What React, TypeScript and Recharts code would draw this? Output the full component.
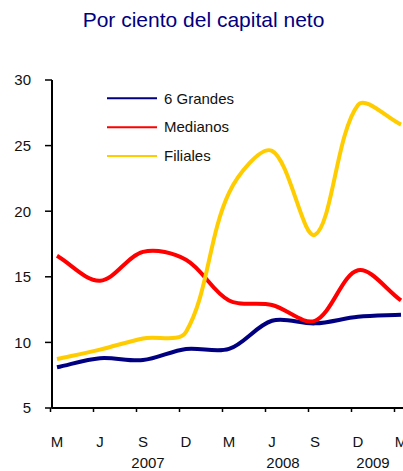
import React from "react";
import { LineChart, Line, XAxis, YAxis } from "recharts";

const FONT = '"Liberation Sans", Arial, sans-serif';

// quarterly observations, Mar 2007 .. Mar 2009
const periods = ["2007-03", "2007-06", "2007-09", "2007-12", "2008-03", "2008-06", "2008-09", "2008-12", "2009-03"];
const monthLabels = ["M", "J", "S", "D", "M", "J", "S", "D", "M"];
const grandes = [8.1, 8.8, 8.65, 9.5, 9.5, 11.65, 11.45, 11.95, 12.1];
const medianos = [16.6, 14.7, 16.9, 16.3, 13.2, 12.85, 11.65, 15.5, 13.2];
const filiales = [8.73, 9.45, 10.3, 10.8, 21.4, 24.6, 18.2, 28.1, 26.6];
const yTicks = [5, 10, 15, 20, 25, 30];

const SERIES = [
  { key: "grandes", name: "6 Grandes", color: "#000080" },
  { key: "medianos", name: "Medianos", color: "#FF0000" },
  { key: "filiales", name: "Filiales", color: "#FFCC00" },
];

const data = periods.map((p, i) => ({
  period: p,
  grandes: grandes[i],
  medianos: medianos[i],
  filiales: filiales[i],
}));

// spreadsheet-style smoothing (chord weighted catmull-rom)
function smoothCurve(context: any) {
  let pts: number[][] = [];
  const dist = (a: number[], b: number[]) => Math.hypot(a[0] - b[0], a[1] - b[1]);
  return {
    areaStart() {},
    areaEnd() {},
    lineStart() {
      pts = [];
    },
    point(x: number, y: number) {
      pts.push([+x, +y]);
    },
    lineEnd() {
      const n = pts.length;
      if (!n) return;
      context.moveTo(pts[0][0], pts[0][1]);
      const k = 1 / 3;
      for (let i = 0; i < n - 1; i++) {
        const p0 = pts[i - 1] || pts[i];
        const p1 = pts[i];
        const p2 = pts[i + 1];
        const p3 = pts[i + 2] || pts[i + 1];
        const d0 = dist(p0, p1);
        const d1 = dist(p1, p2);
        const d2 = dist(p2, p3);
        const f1 = d0 + d1 > 0 ? d1 / (d0 + d1) : 0;
        const f2 = d1 + d2 > 0 ? d1 / (d1 + d2) : 0;
        const c1x = p1[0] + (p2[0] - p0[0]) * f1 * k;
        const c1y = p1[1] + (p2[1] - p0[1]) * f1 * k;
        const c2x = p2[0] - (p3[0] - p1[0]) * f2 * k;
        const c2y = p2[1] - (p3[1] - p1[1]) * f2 * k;
        context.bezierCurveTo(c1x, c1y, c2x, c2y, p2[0], p2[1]);
      }
    },
  };
}

function MonthTick(props: any) {
  const { x, y, index } = props;
  return (
    <g>
      <line x1={x - 6.5} x2={x - 6.5} y1={y} y2={y + 4} stroke="#000" strokeWidth={1.5} />
      <text x={x} y={y + 39} textAnchor="middle" fontSize={15} fontFamily={FONT} fill="#111">
        {monthLabels[index]}
      </text>
    </g>
  );
}

export default function App() {
  return (
    <div style={{ position: "absolute", left: 0, top: 0, width: 403, height: 471, background: "#fff" }}>
      <LineChart width={403} height={471} data={data} margin={{ top: 80, right: 0, bottom: 0, left: 0 }}>
        <XAxis
          dataKey="period"
          height={63}
          interval={0}
          padding={{ left: 5, right: 2 }}
          tickLine={false}
          tickSize={0}
          tickMargin={0}
          axisLine={{ stroke: "#000", strokeWidth: 2 }}
          tick={<MonthTick />}
        />
        <YAxis
          width={52}
          domain={[5, 30]}
          ticks={yTicks}
          interval={0}
          tickSize={7}
          tickMargin={14}
          axisLine={{ stroke: "#000", strokeWidth: 2 }}
          tickLine={{ stroke: "#000", strokeWidth: 1.5 }}
          tick={{ fontSize: 15, fontFamily: FONT, fill: "#111" }}
        />
        {SERIES.map((s) => (
          <Line
            key={s.key}
            dataKey={s.key}
            name={s.name}
            type={smoothCurve as any}
            stroke={s.color}
            strokeWidth={4}
            dot={false}
            activeDot={false}
            isAnimationActive={false}
          />
        ))}
      </LineChart>
      <svg width={403} height={471} style={{ position: "absolute", left: 0, top: 0, pointerEvents: "none" }}>
        <text x={203.5} y={26.5} textAnchor="middle" fontSize={21} fontFamily={FONT} fill="#000080">
          Por ciento del capital neto
        </text>
        {SERIES.map((s, i) => (
          <g key={s.key}>
            <line x1={107} x2={157} y1={98.3 + i * 28.9} y2={98.3 + i * 28.9} stroke={s.color} strokeWidth={2} />
            <text x={164} y={103.5 + i * 28.9} fontSize={15} fontFamily={FONT} fill="#111">
              {s.name}
            </text>
          </g>
        ))}
        <text x={148} y={468} textAnchor="middle" fontSize={15} fontFamily={FONT} fill="#111">2007</text>
        <text x={283} y={468} textAnchor="middle" fontSize={15} fontFamily={FONT} fill="#111">2008</text>
        <text x={373} y={468} textAnchor="middle" fontSize={15} fontFamily={FONT} fill="#111">2009</text>
      </svg>
    </div>
  );
}
